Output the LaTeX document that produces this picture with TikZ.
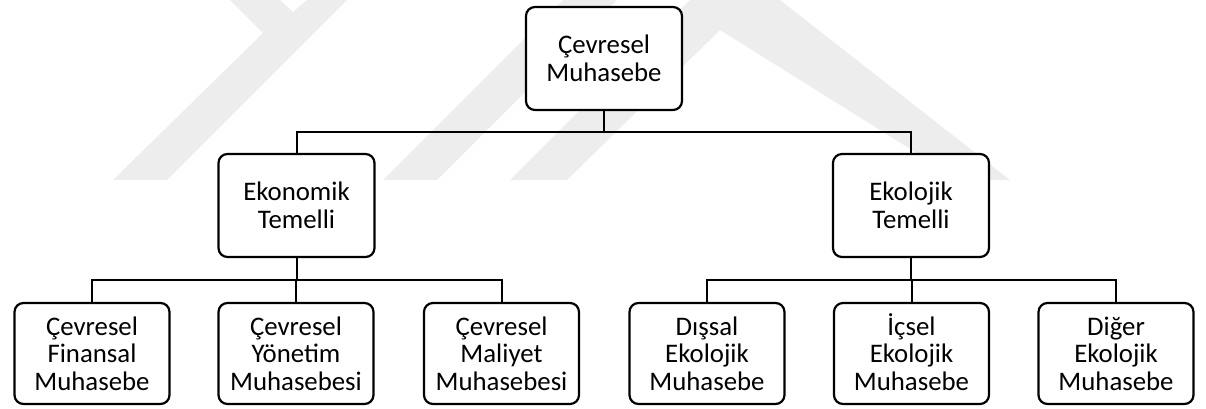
\documentclass[tikz,border=0pt]{standalone}
\usepackage{fontspec}
\setmainfont{Carlito}
\begin{document}
\begin{tikzpicture}[x=1pt,y=-1pt,
  box/.style={draw, line width=2.2pt, rounded corners=9pt, fill=white,
    align=center, inner sep=0pt, font=\fontsize{26.8}{27.6}\selectfont},
  midbox/.style={box, minimum width=156pt, minimum height=103pt},
  leafbox/.style={box, minimum width=155pt, minimum height=101pt},
  link/.style={line width=2pt},
  wmark/.style={fill=black!7, draw=none}]
\useasboundingbox (0,0) rectangle (1206,408);

% faint background logo stripes
\fill[wmark] (230,0) -- (263,33) -- (113,180) -- (167,180) -- (347,0)
  -- (307,0) -- (293,12) -- (280,0) -- cycle;
\fill[wmark] (383,180) -- (437,180) -- (617,0) -- (563,0) -- cycle;
\fill[wmark] (510,180) -- (690,0) -- (780,0) -- (1010,180) -- (960,180)
  -- (720,30) -- (567,180) -- cycle;

% boxes
\node[midbox] (root) at (604,58.5) {Çevresel\\Muhasebe};
\node[midbox] (econ) at (296.5,205.5) {Ekonomik\\Temelli};
\node[midbox] (ecol) at (911,205.5) {Ekolojik\\Temelli};

\node[leafbox] (fin)  at (92,353.5)   {Çevresel\\Finansal\\Muhasebe};
\node[leafbox] (mgmt) at (296,353.5)  {Çevresel\\Yönetim\\Muhasebesi};
\node[leafbox] (cost) at (501.5,353.5) {Çevresel\\Maliyet\\Muhasebesi};
\node[leafbox] (ext)  at (707,353.5)  {Dışsal\\Ekolojik\\Muhasebe};
\node[leafbox] (int)  at (911.5,353.5) {\smash{İ}çsel\\Ekolojik\\Muhasebe};
\node[leafbox] (oth)  at (1116,353.5) {Diğer\\Ekolojik\\Muhasebe};

% bus levels
\coordinate (busA) at (0,132);
\coordinate (busB) at (0,280);

% connectors
\draw[link] (root.south) -- (root.south |- busA);
\draw[link] (econ.north) |- (ecol.north |- busA) -- (ecol.north);

\draw[link] (econ.south) -- (econ.south |- busB);
\draw[link] (fin.north) |- (cost.north |- busB) -- (cost.north);
\draw[link] (mgmt.north) -- (mgmt.north |- busB);

\draw[link] (ecol.south) -- (ecol.south |- busB);
\draw[link] (ext.north) |- (oth.north |- busB) -- (oth.north);
\draw[link] (int.north) -- (int.north |- busB);
\end{tikzpicture}
\end{document}
